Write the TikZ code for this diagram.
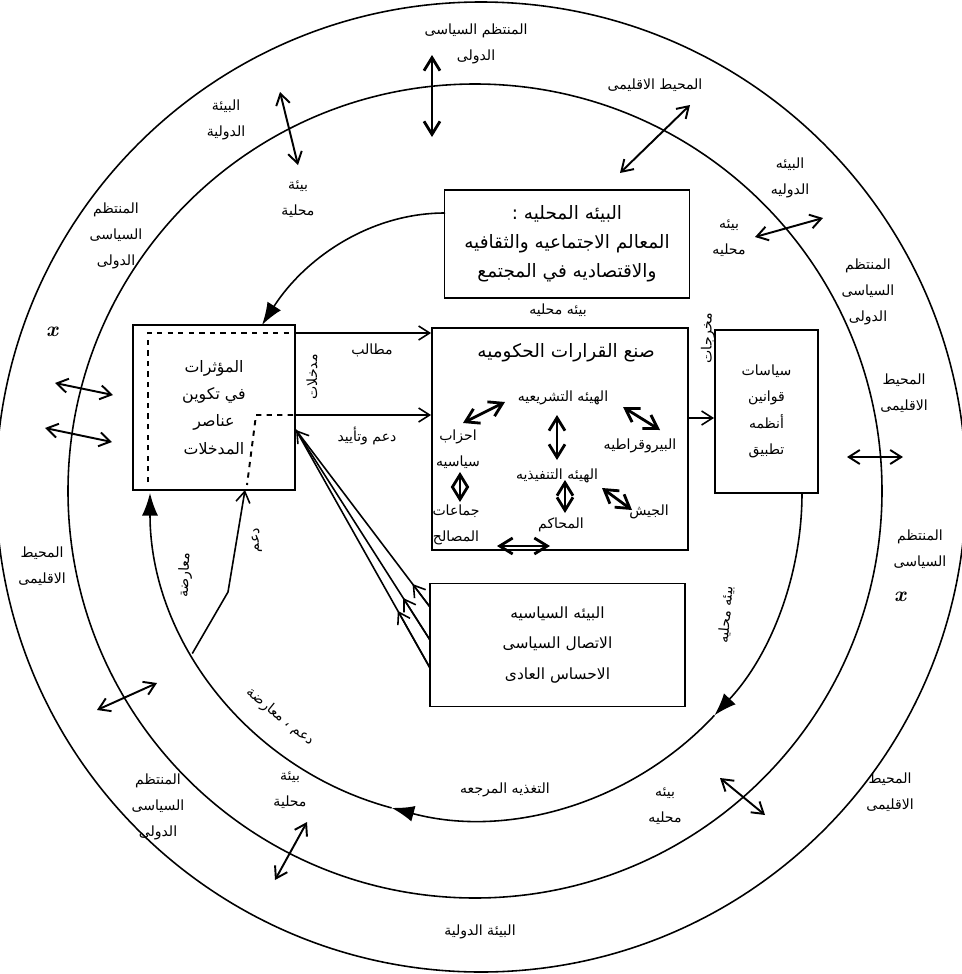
\documentclass[tikz,border=0pt]{standalone}
\usepackage{fontspec}
\usepackage{tikz}
\usetikzlibrary{arrows.meta}
\newfontfamily\arabicfont[Script=Arabic]{DejaVu Sans}
\TeXXeTstate=1
\newcommand{\arb}[1]{{\arabicfont\beginR #1\endR}}

\begin{document}
\begin{tikzpicture}[x=0.02cm, y=-0.02cm, line width=0.9pt,
  font={\fontsize{8}{15}\selectfont}, >={Straight Barb[length=2.2mm,width=2.8mm]},
  bx/.style={draw, line width=1.1pt, inner sep=0pt, align=center},
  tx/.style={align=center, inner sep=1pt},
  dd/.style={<->, line width=1.1pt},
  hd/.style={<->, line width=1.6pt, >={Straight Barb[length=2.6mm,width=3.2mm]}},
  fb/.style={-{Latex[length=4.5mm,width=3.2mm]}}]
  \useasboundingbox (0,0) rectangle (962,974);
  \clip (0,0) rectangle (962,974);
  % rings
  \draw (481,487) circle[radius=485];
  \draw (475,491) circle[radius=407];
  % boxes
  \node[bx, minimum width=4.9cm, minimum height=2.16cm, font={\fontsize{10.5}{16.5}\selectfont}] (env) at (567,244)
    {\arb{البيئه المحليه :}\\\arb{المعالم الاجتماعيه والثقافيه}\\\arb{والاقتصاديه في المجتمع}};
  \node[bx, minimum width=5.12cm, minimum height=4.44cm] (dec) at (560,439) {};
  \node[bx, minimum width=2.06cm, minimum height=3.26cm] (pol) at (766.5,411.5)
    {\arb{سياسات}\\\arb{قوانين}\\\arb{أنظمه}\\\arb{تطبيق}};
  \node[bx, minimum width=3.24cm, minimum height=3.3cm, font={\fontsize{9}{15.5}\selectfont}] (inp) at (214,407.5)
    {\arb{المؤثرات}\\\arb{في تكوين}\\\arb{عناصر}\\\arb{المدخلات}};
  \node[bx, minimum width=5.1cm, minimum height=2.46cm, font={\fontsize{8.8}{17.5}\selectfont}] (pc) at (557.5,645)
    {\arb{البيئه السياسيه}\\\arb{الاتصال السياسى}\\\arb{الاحساس العادى}};
  \draw[dashed, line width=1.1pt] (148,482) -- (148,333) -- (290,333);
  \draw[dashed, line width=1.1pt] (293,415) -- (256,415) -- (247,485);

  % inside the decision box
  \node[tx, font={\fontsize{10.5}{12}\selectfont}] (dtl) at (566,353) {\arb{صنع القرارات الحكوميه}};
  \node[tx] (leg) at (563,398) {\arb{الهيئه التشريعيه}};
  \node[tx] (bur) at (640,446) {\arb{البيروقراطيه}};
  \node[tx] (par) at (458,449) {\arb{احزاب}\\\arb{سياسيه}};
  \node[tx] (exe) at (557,476) {\arb{الهيئه التنفيذيه}};
  \node[tx] (army) at (649,512) {\arb{الجيش}};
  \node[tx] (crt) at (561,525) {\arb{المحاكم}};
  \node[tx] (grp) at (456,525) {\arb{جماعات}\\\arb{المصالح}};
  \coordinate (k1) at (463,423); \coordinate (k2) at (505,402);
  \coordinate (k3) at (557,415); \coordinate (k4) at (557,460);
  \coordinate (k5) at (623,407); \coordinate (k6) at (660,430);
  \coordinate (k7) at (460,472); \coordinate (k8) at (460,502);
  \coordinate (k9) at (565,480); \coordinate (k10) at (565,513);
  \coordinate (k11) at (602,488); \coordinate (k12) at (632,510);
  \coordinate (k13) at (497,546); \coordinate (k14) at (550,546);
  \draw[hd] (k1) -- (k2);
  \draw[hd] (k3) -- (k4);
  \draw[hd] (k5) -- (k6);
  \draw[hd] (k7) -- (k8);
  \draw[hd] (k9) -- (k10);
  \draw[hd] (k11) -- (k12);
  \draw[hd] (k13) -- (k14);

  % inputs and outputs
  \draw[->] (inp.east |- 0,333) -- (dec.west |- 0,333);
  \draw[->] (inp.east |- 0,415) -- (dec.west |- 0,415);
  \draw[->] (dec.east |- 0,418) -- (pol.west |- 0,418);
  \node[tx] (dmd) at (372,350) {\arb{مطالب}};
  \node[tx] (sup) at (367,436) {\arb{دعم وتأييد}};
  \node[tx, rotate=90] (inl) at (312,377) {\arb{مدخلات}};
  \node[tx, rotate=90] (outl) at (708,338) {\arb{مخرجات}};
  \node[tx] (loc0) at (558,310) {\arb{بيئه محليه}};

  % environment into the inputs
  \coordinate (e1) at (445,213);
  \coordinate (i1) at (262,325);
  \draw[fb] (e1) .. controls (370,213) and (305,258) .. (i1);

  % political culture into the inputs
  \coordinate (p1) at (430,607); \coordinate (p2) at (430,640); \coordinate (p3) at (430,668);
  \coordinate (i2) at (296,430);
  \draw[->] (p1) -- (i2) coordinate[pos=0.13] (m1);
  \draw (p2) -- (i2) coordinate[pos=0.2] (m2);
  \draw (p3) -- (i2) coordinate[pos=0.24] (m3);
  \draw[->] (p1) -- (m1);
  \draw[->] (p2) -- (m2);
  \draw[->] (p3) -- (m3);

  % feedback loop
  \coordinate (o1) at (802,493);
  \draw[fb] (o1) arc[start angle=0, end angle=43, radius=326] coordinate (o2);
  \draw[fb] (o2) arc[start angle=43, end angle=105, radius=326] coordinate (o3);
  \draw[fb] (o3) arc[start angle=105, end angle=180, radius=326];
  \path (o1) ++(-326,0) ++(150.5:326) coordinate (j);
  \draw[->] (j) -- (228,592) -- (245,490);
  \node[tx, rotate=85] (fbr) at (726,615) {\arb{بيئه محليه}};
  \node[tx] (fbb) at (505,790) {\arb{التغذيه المرجعه}};
  \node[tx, rotate=-39] (fbl) at (280,717) {\arb{دعم ، معارضة}};
  \node[tx, rotate=88] (opp) at (185,575) {\arb{معارضة}};
  \node[tx, rotate=88] (spl) at (257,540) {\arb{دعم}};

  % ring labels
  \node[tx] (t1) at (476,44) {\arb{المنتظم السياسى}\\\arb{الدولى}};
  \node[tx] (t2) at (655,85) {\arb{المحيط الاقليمى}};
  \node[tx] (t3) at (226,120) {\arb{البيئة}\\\arb{الدولية}};
  \node[tx] (t4) at (298,199) {\arb{بيئة}\\\arb{محلية}};
  \node[tx] (t5) at (116,236) {\arb{المنتظم}\\\arb{السياسى}\\\arb{الدولى}};
  \node[tx] (t6) at (790,178) {\arb{البيئه}\\\arb{الدوليه}};
  \node[tx] (t7) at (729,238) {\arb{بيئه}\\\arb{محليه}};
  \node[tx] (t8) at (868,292) {\arb{المنتظم}\\\arb{السياسى}\\\arb{الدولى}};
  \node[tx] (t9) at (904,393) {\arb{المحيط}\\\arb{الاقليمى}};
  \node[tx] (t10) at (920,549) {\arb{المنتظم}\\\arb{السياسى}};
  \node[tx] (t11) at (890,792) {\arb{المحيط}\\\arb{الاقليمى}};
  \node[tx] (t12) at (665,806) {\arb{بيئه}\\\arb{محليه}};
  \node[tx] (t13) at (480,932) {\arb{البيئة الدولية}};
  \node[tx] (t14) at (290,790) {\arb{بيئة}\\\arb{محلية}};
  \node[tx] (t15) at (158,807) {\arb{المنتظم}\\\arb{السياسى}\\\arb{الدولى}};
  \node[tx] (t16) at (42,566) {\arb{المحيط}\\\arb{الاقليمى}};
  \node[tx, font={\fontsize{12}{12}\selectfont}] (x1) at (52,332) {\bfseries\itshape x};
  \node[tx, font={\fontsize{12}{12}\selectfont}] (x2) at (900,597) {\bfseries\itshape x};

  % crossings of the rings
  \coordinate (a1) at (432,55);  \coordinate (b1) at (432,137);
  \coordinate (a2) at (620,173); \coordinate (b2) at (690,105);
  \coordinate (a3) at (280,92);  \coordinate (b3) at (298,165);
  \coordinate (a4) at (755,237); \coordinate (b4) at (823,218);
  \coordinate (a5) at (55,383);  \coordinate (b5) at (113,395);
  \coordinate (a6) at (45,428);  \coordinate (b6) at (112,442);
  \coordinate (a7) at (847,457); \coordinate (b7) at (903,457);
  \coordinate (a8) at (720,778); \coordinate (b8) at (765,815);
  \coordinate (a9) at (275,880); \coordinate (b9) at (307,822);
  \coordinate (a10) at (97,710); \coordinate (b10) at (157,683);
  \draw[hd] (a1) -- (b1);
  \draw[dd] (a2) -- (b2);
  \draw[dd] (a3) -- (b3);
  \draw[dd] (a4) -- (b4);
  \draw[dd] (a5) -- (b5);
  \draw[dd] (a6) -- (b6);
  \draw[dd] (a7) -- (b7);
  \draw[dd] (a8) -- (b8);
  \draw[dd] (a9) -- (b9);
  \draw[dd] (a10) -- (b10);
\end{tikzpicture}
\end{document}
